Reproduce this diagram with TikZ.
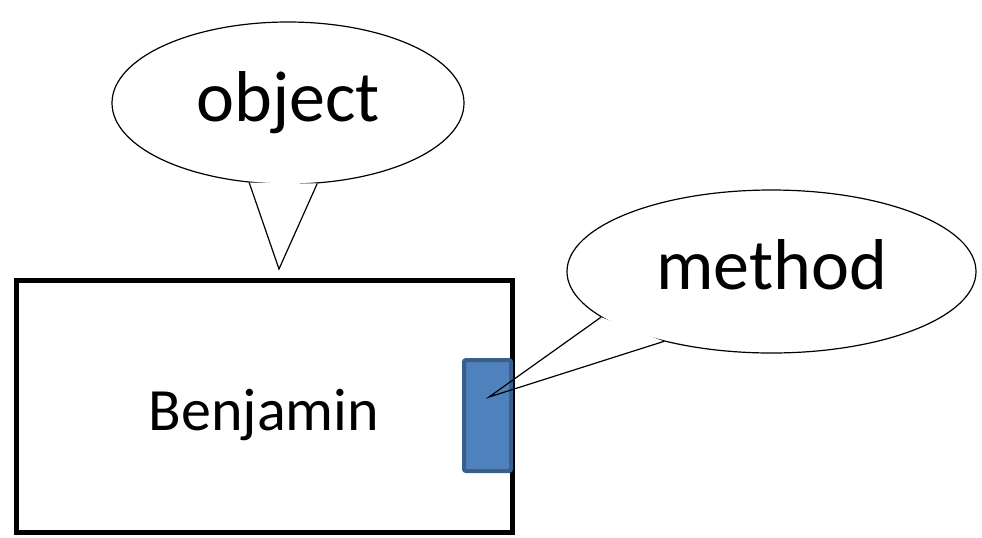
\documentclass[tikz,border=0pt]{standalone}
\usepackage{fontspec}
\setmainfont{Carlito}
\usetikzlibrary{shapes.geometric}
\definecolor{portblue}{HTML}{4F81BD}
\definecolor{portedge}{HTML}{3A5F8C}
\begin{document}
\begin{tikzpicture}[x=0.75pt,y=-0.75pt,
	bubble/.style={ellipse,draw,fill=white,line width=0.9pt,inner sep=0pt,font=\fontsize{54}{60}\selectfont,text height=37.8pt,text depth=10.8pt},
	tail/.style={line width=0.9pt,line join=miter}]
		\useasboundingbox (0,0) rectangle (982,537);
		\node[bubble,minimum width=264pt,minimum height=121.5pt] (objbubble) at (288,103) {object};
		\coordinate (objtip) at (279,269);
		\fill[white] (objbubble.244) -- (objtip) -- (objbubble.290) -- cycle;
		\draw[tail] (objbubble.244) -- (objtip) -- (objbubble.290);
		\node[bubble,minimum width=306.75pt,minimum height=122.25pt] (methbubble) at (771.5,271.5) {method};
		\coordinate (methtip) at (489,397);
		\fill[white] (methbubble.195) -- (methtip) -- (methbubble.213) -- cycle;
		\node[draw,line width=3.75pt,minimum width=372pt,minimum height=189pt,inner sep=0pt,font=\fontsize{45}{54}\selectfont,text height=36pt,text depth=0pt] (benjamin) at (264,406) {Benjamin};
		\node[draw=portedge,fill=portblue,line width=3pt,rounded corners=1.5pt,minimum width=35.25pt,minimum height=83.25pt,inner sep=0pt] (port) at (487.5,415.5) {};
		\draw[tail] (methbubble.195) -- (methtip) -- (methbubble.213);
\end{tikzpicture}
\end{document}
